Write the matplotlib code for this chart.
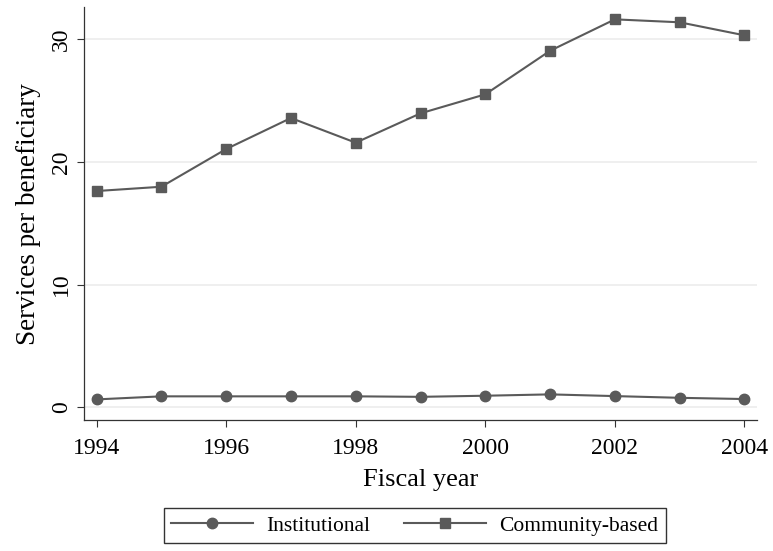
import numpy as np
import matplotlib
matplotlib.use('Agg')
import matplotlib.pyplot as plt

# Data
years = [1994, 1995, 1996, 1997, 1998, 1999, 2000, 2001, 2002, 2003, 2004]
institutional = [0.65, 0.90, 0.90, 0.90, 0.90, 0.86, 0.95, 1.06, 0.92, 0.78, 0.68]
community = [17.63, 17.98, 21.05, 23.58, 21.57, 23.96, 25.51, 29.06, 31.62, 31.38, 30.32]
x_ticks = [1994, 1996, 1998, 2000, 2002, 2004]
y_ticks = [0, 10, 20, 30]

plt.rcParams['font.family'] = ['Liberation Serif', 'DejaVu Serif']
line_color = '#5a5a5a'

fig = plt.figure(figsize=(7.73, 5.51), dpi=100)
ax = fig.add_axes([0.109, 0.2377, 0.870, 0.749])

ax.plot(years, institutional, color=line_color, linewidth=1.5, marker='o',
        markersize=7.5, label='Institutional')
ax.plot(years, community, color=line_color, linewidth=1.5, marker='s',
        markersize=7.5, label='Community-based')

ax.set_xlim(1993.81, 2004.19)
ax.set_ylim(-1.03, 32.6)
ax.set_xticks(x_ticks)
ax.set_yticks(y_ticks)
ax.set_yticklabels([str(v) for v in y_ticks], rotation=90, va='center')
ax.tick_params(axis='both', direction='out', length=5, width=0.8,
               color='#333333', labelsize=17)
ax.tick_params(axis='x', pad=8)
ax.tick_params(axis='y', pad=4)

for t in y_ticks:
    ax.axhline(t, color='#eeeeee', linewidth=1.3, zorder=0)

for side in ['top', 'right']:
    ax.spines[side].set_visible(False)
for side in ['left', 'bottom']:
    ax.spines[side].set_color('#333333')
    ax.spines[side].set_linewidth(0.9)

ax.set_xlabel('Fiscal year', fontsize=19, labelpad=7)
ax.set_ylabel('Services per beneficiary', fontsize=19.5, labelpad=7)

leg = fig.legend(loc='center', bbox_to_anchor=(0.5365, 0.0455), ncol=2,
                 fontsize=15.5, frameon=True, fancybox=False, edgecolor='black',
                 handlelength=3.8, columnspacing=1.6, borderpad=0.35,
                 handletextpad=0.6)
leg.get_frame().set_linewidth(1.0)

plt.savefig('out.png', dpi=100)
